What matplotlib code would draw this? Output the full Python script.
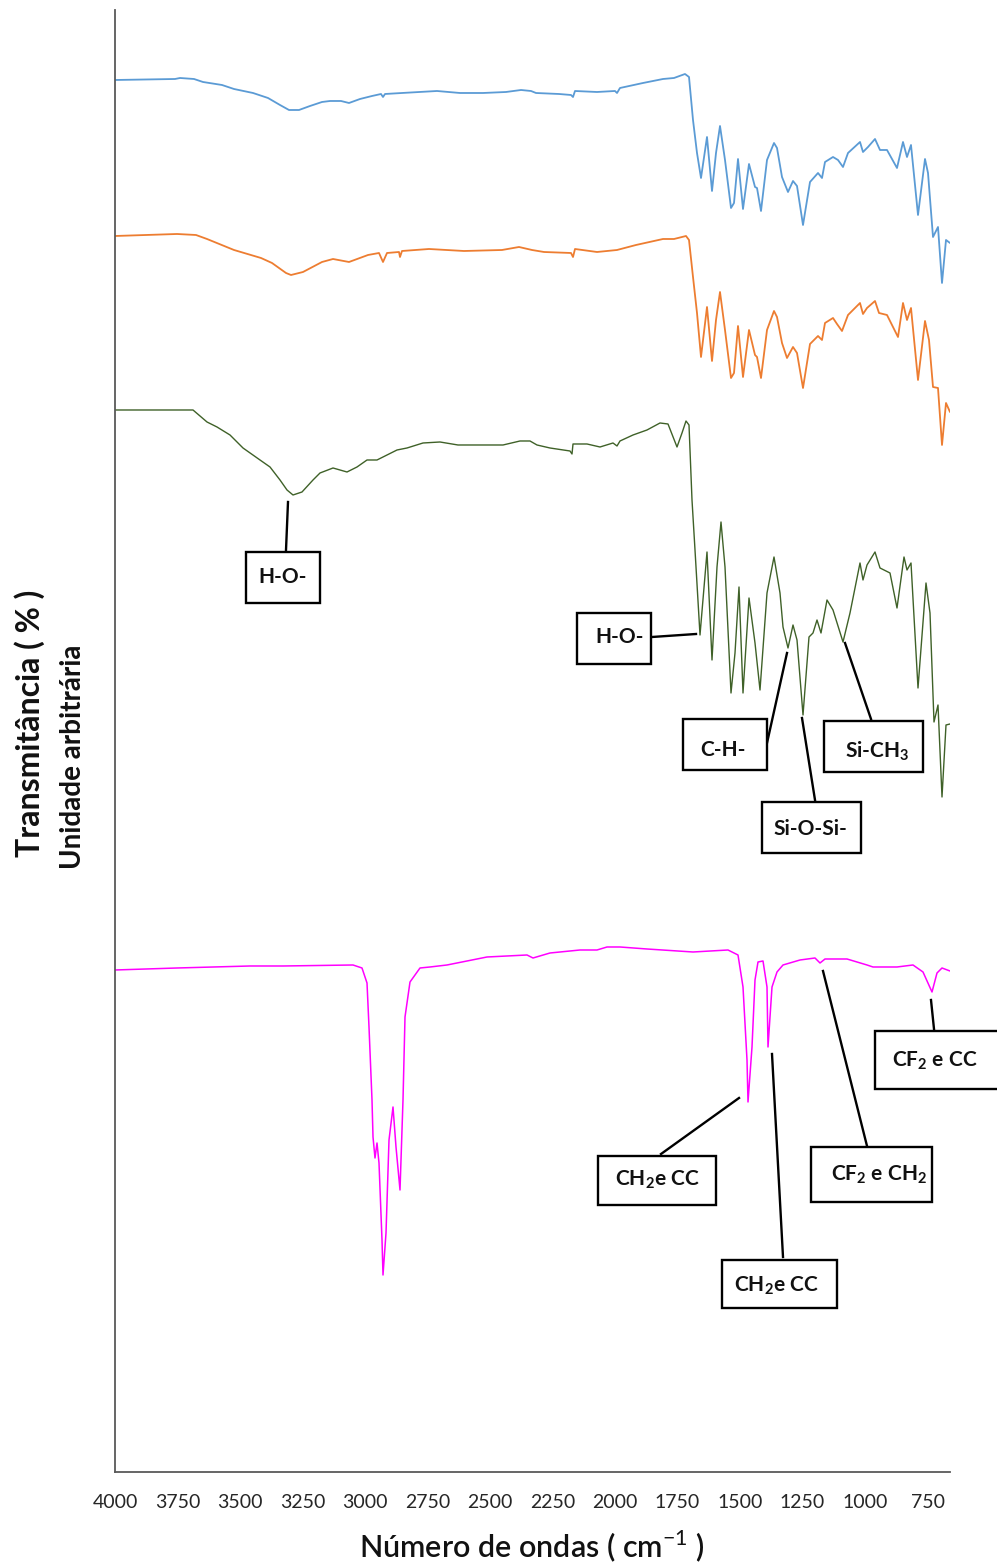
import matplotlib
matplotlib.use('Agg')
import matplotlib.pyplot as plt
from matplotlib.patches import Rectangle

plt.rcParams['font.family'] = ['Lato', 'DejaVu Sans']
plt.rcParams['mathtext.fontset'] = 'custom'
plt.rcParams['mathtext.rm'] = 'Lato'
plt.rcParams['mathtext.bf'] = 'Lato:bold'

# --- espectros FTIR (numero de onda em cm-1, transmitancia em unidade arbitraria) ---
wn_azul = [4000, 3760, 3740, 3684, 3648, 3572, 3524, 3448, 3388, 3340, 3304, 3264, 3220, 3172,
           3140, 3096, 3064, 3020, 2972, 2936, 2928, 2920, 2852, 2712, 2620, 2528, 2436, 2376,
           2336, 2316, 2224, 2176, 2168, 2160, 2072, 2000, 1992, 1980, 1888, 1808, 1764, 1720,
           1704, 1688, 1672, 1656, 1632, 1612, 1596, 1580, 1560, 1536, 1524, 1508, 1488, 1464,
           1440, 1432, 1416, 1392, 1364, 1352, 1332, 1308, 1288, 1272, 1248, 1220, 1188, 1172,
           1160, 1128, 1108, 1088, 1068, 1020, 1008, 988, 960, 940, 912, 872, 848, 832, 816,
           788, 760, 748, 728, 708, 692, 676, 660]
t_azul = [1392, 1393, 1394, 1393, 1390, 1387, 1383, 1379, 1374, 1367, 1362, 1362, 1366, 1370,
          1371, 1371, 1369, 1373, 1376, 1378, 1375, 1378, 1379, 1381, 1379, 1379, 1380, 1382,
          1381, 1379, 1378, 1377, 1375, 1381, 1380, 1381, 1379, 1384, 1389, 1393, 1394, 1398,
          1395, 1352, 1319, 1294, 1335, 1281, 1319, 1346, 1312, 1264, 1269, 1313, 1263, 1308,
          1285, 1284, 1261, 1312, 1329, 1324, 1295, 1280, 1291, 1286, 1247, 1290, 1299, 1294,
          1310, 1315, 1312, 1305, 1319, 1330, 1320, 1325, 1333, 1322, 1322, 1304, 1330, 1315,
          1327, 1257, 1313, 1299, 1235, 1245, 1189, 1232, 1229]

wn_laranja = [4000, 3752, 3676, 3632, 3524, 3416, 3372, 3316, 3296, 3248, 3172, 3128, 3064, 2988,
              2944, 2928, 2912, 2864, 2860, 2852, 2744, 2604, 2452, 2384, 2332, 2284, 2176, 2168,
              2160, 2072, 1992, 1916, 1808, 1764, 1716, 1704, 1688, 1672, 1656, 1632, 1612, 1596,
              1580, 1560, 1536, 1524, 1508, 1488, 1464, 1440, 1432, 1416, 1392, 1364, 1352, 1332,
              1312, 1288, 1272, 1248, 1220, 1188, 1172, 1160, 1128, 1112, 1092, 1068, 1020, 1008,
              992, 960, 944, 912, 868, 848, 832, 816, 788, 760, 744, 728, 708, 692, 676, 660]
t_laranja = [1236, 1238, 1237, 1233, 1222, 1214, 1209, 1199, 1197, 1200, 1210, 1213, 1210, 1217,
             1219, 1210, 1219, 1220, 1215, 1221, 1223, 1221, 1222, 1225, 1222, 1220, 1219, 1215,
             1223, 1220, 1222, 1227, 1233, 1233, 1236, 1232, 1195, 1159, 1115, 1165, 1111, 1152,
             1180, 1142, 1094, 1099, 1146, 1095, 1142, 1117, 1115, 1094, 1142, 1161, 1155, 1129,
             1114, 1125, 1119, 1084, 1128, 1136, 1132, 1149, 1154, 1148, 1141, 1157, 1169, 1158,
             1164, 1171, 1159, 1157, 1135, 1169, 1152, 1164, 1092, 1151, 1132, 1085, 1084, 1027,
             1069, 1060]

wn_verde = [4000, 3688, 3632, 3592, 3540, 3488, 3420, 3380, 3340, 3312, 3288, 3252, 3208, 3180,
            3128, 3072, 3032, 2992, 2952, 2912, 2872, 2832, 2768, 2700, 2628, 2448, 2380, 2340,
            2312, 2260, 2180, 2172, 2168, 2112, 2060, 2008, 1992, 1980, 1928, 1872, 1820, 1788,
            1752, 1732, 1716, 1704, 1692, 1680, 1660, 1632, 1612, 1592, 1576, 1560, 1536, 1520,
            1504, 1488, 1464, 1440, 1420, 1392, 1364, 1340, 1328, 1308, 1288, 1272, 1248, 1224,
            1208, 1192, 1176, 1152, 1128, 1088, 1060, 1020, 1008, 992, 960, 940, 900, 872, 844,
            832, 816, 788, 756, 740, 724, 708, 692, 676, 660]
t_verde = [1062, 1062, 1050, 1045, 1037, 1024, 1012, 1005, 992, 982, 977, 980, 992, 999,
           1004, 1000, 1005, 1012, 1012, 1017, 1022, 1024, 1029, 1030, 1027, 1027, 1031, 1031,
           1027, 1024, 1021, 1018, 1028, 1028, 1025, 1029, 1026, 1031, 1037, 1042, 1049, 1048,
           1025, 1039, 1051, 1047, 972, 922, 837, 920, 812, 905, 950, 905, 779, 819,
           885, 779, 874, 829, 782, 879, 915, 879, 845, 824, 847, 832, 757, 835,
           839, 852, 839, 872, 862, 830, 859, 909, 892, 907, 920, 904, 899, 864, 915,
           902, 909, 784, 889, 859, 750, 767, 675, 747, 748]

wn_rosa = [4000, 3752, 3460, 3328, 3048, 3012, 2992, 2984, 2972, 2968, 2960, 2952, 2944, 2932,
           2928, 2916, 2904, 2888, 2876, 2860, 2848, 2840, 2820, 2780, 2740, 2672, 2592, 2512,
           2352, 2328, 2260, 2140, 2072, 2032, 1980, 1872, 1688, 1548, 1508, 1488, 1472, 1468,
           1452, 1440, 1428, 1408, 1392, 1388, 1372, 1352, 1328, 1260, 1200, 1180, 1160, 1072,
           992, 968, 872, 808, 768, 732, 712, 692, 660]
t_rosa = [502, 504, 506, 506, 507, 504, 489, 445, 372, 335, 314, 329, 309, 232,
          197, 239, 332, 365, 325, 282, 372, 455, 490, 504, 505, 507, 511, 515,
          517, 514, 519, 522, 522, 525, 525, 523, 520, 522, 517, 485, 412, 370,
          425, 492, 510, 511, 485, 425, 485, 500, 507, 512, 514, 509, 513, 513,
          507, 505, 505, 507, 500, 480, 499, 504, 501]

xticks = list(range(4000, 749, -250))

# caixas de atribuicao: texto, (x0, x1, y0, y1) da caixa, posicao do texto, linha de chamada
anotacoes = [
    ('H-O-', (3476, 3180, 869, 920), (3328, 895), ((3316, 922), (3308, 970))),
    ('H-O-', (2152, 1856, 808, 859), (1980, 835), ((1852, 835), (1676, 838))),
    ('C-H-', (1728, 1392, 702, 753), (1568, 722), ((1392, 729), (1312, 819))),
    ('Si-O-Si-', (1412, 1016, 619, 670), (1220, 643), ((1200, 672), (1252, 754))),
    (r'Si-CH$_\mathbf{3}$', (1164, 768, 700, 751), (952, 721), ((976, 753), (1080, 829))),
    (r'CH$_\mathbf{2}$e CC', (2068, 1596, 267, 316), (1832, 292), ((1816, 318), (1504, 374))),
    (r'CH$_\mathbf{2}$e CC', (1572, 1112, 164, 212), (1356, 186), ((1328, 215), (1372, 418))),
    (r'CF$_\mathbf{2}$ e CH$_\mathbf{2}$', (1216, 732, 270, 325), (944, 297), ((992, 326), (1168, 501))),
    (r'CF$_\mathbf{2}$ e CC', (960, 440, 383, 441), (722, 411), ((724, 443), (736, 472))),
]

fig = plt.figure(figsize=(9.97, 15.66), dpi=100)
ax = fig.add_axes([0.11535, 0.06003, 0.83751, 0.93359])

estilo = dict(solid_joinstyle='round', solid_capstyle='round')
ax.plot(wn_azul, t_azul, color='#5B9BD5', lw=1.3, **estilo)
ax.plot(wn_laranja, t_laranja, color='#ED7D31', lw=1.3, **estilo)
ax.plot(wn_verde, t_verde, color='#3F6128', lw=1.0, **estilo)
ax.plot(wn_rosa, t_rosa, color='#FF00FF', lw=1.1, **estilo)

for texto, (x0, x1, y0, y1), (tx, ty), ((lx0, ly0), (lx1, ly1)) in anotacoes:
    ax.plot([lx0, lx1], [ly0, ly1], color='black', lw=1.7, zorder=4, clip_on=False)
    ax.add_patch(Rectangle((x0, y0), x1 - x0, y1 - y0, facecolor='white', edgecolor='black',
                           lw=1.7, zorder=5, clip_on=False))
    ax.text(tx, ty, texto, ha='center', va='center', fontsize=15, fontweight='bold',
            color='#111111', zorder=6)

ax.set_xlim(4000, 660)
ax.set_ylim(0, 1462)
ax.set_xticks(xticks)
ax.set_xticklabels([str(v) for v in xticks])
ax.set_yticks([])
ax.tick_params(axis='x', length=0, pad=16, labelsize=14, labelcolor='#262626')
for lado in ['top', 'right']:
    ax.spines[lado].set_visible(False)
for lado in ['left', 'bottom']:
    ax.spines[lado].set_color('#595959')
    ax.spines[lado].set_linewidth(1.3)

fig.text(532 / 997, 1 - 1546 / 1566, r'Número de ondas ( cm$^{\mathrm{-1}}$ )',
         ha='center', va='center', fontsize=22, fontweight='semibold', color='#111111')
fig.text(30 / 997, 1 - 723 / 1566, 'Transmitância ( % )', rotation=90,
         ha='center', va='center', fontsize=23, fontweight='bold', color='#111111')
fig.text(73 / 997, 1 - 757 / 1566, 'Unidade arbitrária', rotation=90,
         ha='center', va='center', fontsize=20, fontweight='bold', color='#111111')

fig.savefig('out.png', dpi=100)
